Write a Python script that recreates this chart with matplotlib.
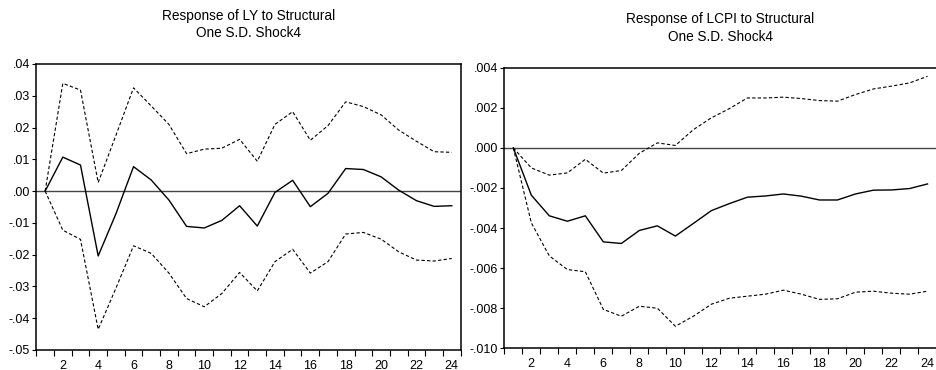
import matplotlib
matplotlib.use("Agg")
import matplotlib.pyplot as plt
import numpy as np

plt.rcParams['font.family'] = ['Liberation Sans', 'DejaVu Sans']

periods = list(range(1, 25))

# Response of LY
ly_resp = [0, 0.0107, 0.0082, -0.0204, -0.0072, 0.0077, 0.0035, -0.0028, -0.0111, -0.0116,
           -0.0092, -0.0046, -0.0110, -0.0004, 0.0034, -0.0049, -0.0007, 0.0071, 0.0068, 0.0045,
           0.0003, -0.0030, -0.0048, -0.0046]
ly_upper = [0, 0.0339, 0.0318, 0.0027, 0.0175, 0.0325, 0.0268, 0.0210, 0.0118, 0.0132,
            0.0135, 0.0163, 0.0094, 0.0210, 0.0250, 0.0160, 0.0206, 0.0281, 0.0266, 0.0240,
            0.0192, 0.0157, 0.0124, 0.0122]
ly_lower = [0, -0.0123, -0.0152, -0.0435, -0.0306, -0.0172, -0.0196, -0.0258, -0.0338, -0.0364,
            -0.0322, -0.0256, -0.0314, -0.0222, -0.0183, -0.0258, -0.0222, -0.0135, -0.0130, -0.0151,
            -0.0191, -0.0217, -0.0220, -0.0212]

# Response of LCPI
cpi_resp = [0, -0.00236, -0.00339, -0.00366, -0.00339, -0.00469, -0.00477, -0.00412, -0.00389, -0.00440,
            -0.00377, -0.00313, -0.00278, -0.00246, -0.00240, -0.00230, -0.00241, -0.00260, -0.00260, -0.00230,
            -0.00211, -0.00210, -0.00203, -0.00180]
cpi_upper = [0, -0.00100, -0.00136, -0.00125, -0.00057, -0.00126, -0.00113, -0.00027, 0.00025, 0.00012,
             0.00091, 0.00150, 0.00196, 0.00249, 0.00249, 0.00253, 0.00246, 0.00236, 0.00233, 0.00266,
             0.00294, 0.00308, 0.00324, 0.00357]
cpi_lower = [0, -0.00374, -0.00539, -0.00607, -0.00618, -0.00806, -0.00840, -0.00790, -0.00800, -0.00890,
             -0.00840, -0.00780, -0.00750, -0.00740, -0.00730, -0.00710, -0.00730, -0.00756, -0.00753, -0.00720,
             -0.00715, -0.00725, -0.00730, -0.00715]

ly_yticks = [0.04, 0.03, 0.02, 0.01, 0.0, -0.01, -0.02, -0.03, -0.04, -0.05]
ly_ylabels = ['.04', '.03', '.02', '.01', '.00', '-.01', '-.02', '-.03', '-.04', '-.05']
cpi_yticks = [0.004, 0.002, 0.0, -0.002, -0.004, -0.006, -0.008, -0.010]
cpi_ylabels = ['.004', '.002', '.000', '-.002', '-.004', '-.006', '-.008', '-.010']
xlabels_pos = list(range(2, 25, 2))
xlabels = [str(v) for v in xlabels_pos]

titles = ["Response of LY to Structural\nOne S.D. Shock4",
          "Response of LCPI to Structural\nOne S.D. Shock4"]

W, H = 937, 370
fig = plt.figure(figsize=(W / 100, H / 100), dpi=100)

def px_axes(x0, x1, y0, y1):
    return fig.add_axes([x0 / W, (H - y1) / H, (x1 - x0) / W, (y1 - y0) / H])

ax1 = px_axes(36.3, 460.6, 64, 350)
ax2 = px_axes(504.3, 936.5, 67.7, 348.3)

dash = (0, (3.0, 2.0))

def style(ax, resp, up, lo, yticks, ylabels, ylim, title, hide_right=False):
    ax.plot(periods, up, color='black', lw=0.8, linestyle=dash)
    ax.plot(periods, lo, color='black', lw=0.8, linestyle=dash)
    ax.plot(periods, resp, color='black', lw=1.0)
    ax.axhline(0, color='#444444', lw=1.0, zorder=1)
    ax.set_xlim(0.5, 24.5)
    ax.set_ylim(*ylim)
    ax.set_yticks(yticks)
    ax.set_yticklabels(ylabels)
    ax.set_xticks(xlabels_pos)
    ax.set_xticklabels(xlabels)
    ax.set_xticks(np.arange(0.5, 24.6, 1.0), minor=True)
    ax.tick_params(axis='x', which='major', length=0, pad=7, labelsize=9)
    ax.tick_params(axis='x', which='minor', length=4.5, width=0.8, direction='out')
    ax.tick_params(axis='y', which='major', length=3, width=0.8, direction='out', pad=1.5,
                   labelsize=9)
    for s in ax.spines.values():
        s.set_linewidth(1.1)
        s.set_color('black')
    if hide_right:
        ax.spines['right'].set_visible(False)
    ax.set_title(title, fontsize=9.8, pad=19.5, linespacing=1.3)

style(ax1, ly_resp, ly_upper, ly_lower, ly_yticks, ly_ylabels, (-0.05, 0.04), titles[0])
style(ax2, cpi_resp, cpi_upper, cpi_lower, cpi_yticks, cpi_ylabels, (-0.010, 0.004), titles[1],
      hide_right=True)

fig.savefig('out.png', dpi=100)
